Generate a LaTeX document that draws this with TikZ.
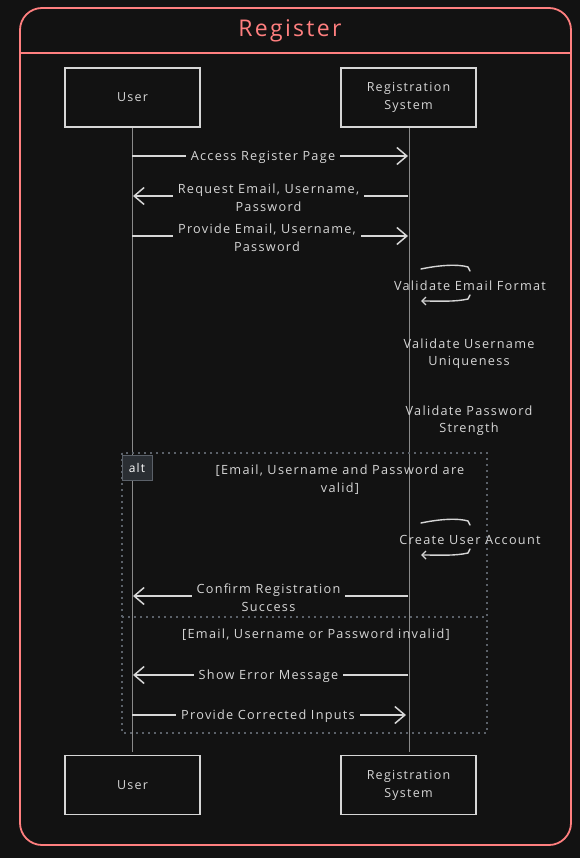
\documentclass[tikz,border=0pt]{standalone}
\usepackage{fontspec}
\setmainfont{Open Sans}[LetterSpace=10]
\usetikzlibrary{arrows.meta}
\definecolor{bgc}{HTML}{121212}
\definecolor{ink}{HTML}{D6D6D6}
\definecolor{salmon}{HTML}{FF7F7F}
\definecolor{life}{HTML}{8A8A8A}
\definecolor{dotc}{HTML}{5B6169}
\definecolor{altfill}{HTML}{2A2E33}
\tikzset{
  actor/.style={draw=ink, line width=1.6pt, fill=bgc, minimum width=135pt, minimum height=59pt, align=center, text=ink, font=\fontsize{12.5}{18}\selectfont},
  lifeline/.style={draw=life, line width=0.9pt},
  msg/.style={draw=ink, line width=1.5pt, -{Straight Barb[length=10pt,width=17pt,line width=1.5pt]}},
  lbl/.style={fill=bgc, text=ink, align=center, inner xsep=5pt, inner ysep=1pt, yshift=-1.5pt, font=\fontsize{12.7}{17.5}\selectfont},
  note/.style={text=ink, align=center, inner sep=1pt, yshift=-1.5pt, font=\fontsize{12.7}{17.5}\selectfont},
  frag/.style={draw=dotc, line width=1.6pt, dash pattern=on 1.6pt off 4.4pt},
  loopar/.style={draw=ink, line width=1.4pt, line cap=round}
}
\begin{document}
\begin{tikzpicture}[x=1pt,y=-1pt]
\fill[bgc] (0,0) rectangle (580,858);
\useasboundingbox (0,0) rectangle (580,858);
% outer frame
\draw[salmon, line width=1.8pt, rounded corners=22pt] (20,8) rectangle (571,845);
\draw[salmon, line width=1.8pt] (20,53) -- (571,53);
\node[text=salmon, font=\fontsize{23}{26}\selectfont] (title) at (290,31) {Register};
% lifelines
\coordinate (uTop) at (132,127);
\coordinate (uBot) at (132,752);
\coordinate (sTop) at (409,127);
\coordinate (sBot) at (409,752);
\draw[lifeline] (uTop) -- (uBot);
\draw[lifeline] (sTop) -- (sBot);
% actors
\node[actor] (user1) at (132.5,97.5) {User};
\node[actor] (sys1) at (408.5,97.5) {Registration\\System};
\node[actor] (user2) at (132.5,785) {User};
\node[actor] (sys2) at (408.5,785) {Registration\\System};
% alt fragment
\draw[frag] (122,453) rectangle (487,733);
\draw[frag] (122,617) -- (487,617);
\node[draw=dotc, fill=altfill, line width=1pt, minimum width=30pt, minimum height=25pt, text=white, font=\fontsize{12}{14}\selectfont, inner sep=0pt] (alt) at (137,467.5) {alt};
\node[note] (g1) at (340,478) {[Email, Username and Password are\\valid]};
\node[note] (g2) at (316,633) {[Email, Username or Password invalid]};
% messages
\coordinate (a1) at (132,156); \coordinate (b1) at (408,156);
\draw[msg] (a1) -- (b1) node[lbl, midway, xshift=-7pt] (m1) {Access Register Page};
\coordinate (a2) at (408,196); \coordinate (b2) at (133,196);
\draw[msg] (a2) -- (b2) node[lbl, pos=0.5, xshift=-2pt] (m2) {Request Email, Username,\\Password};
\coordinate (a3) at (132,236); \coordinate (b3) at (408,236);
\draw[msg] (a3) -- (b3) node[lbl, midway, xshift=-3pt] (m3) {Provide Email, Username,\\Password};
% self loop 1
\coordinate (l1a) at (421,269); \coordinate (l1b) at (468,267);
\coordinate (l1c) at (468,299); \coordinate (l1d) at (421,301);
\draw[loopar] (l1a) .. controls (440,265) and (458,264) .. (l1b) -- (470,271);
\draw[loopar, -{Straight Barb[length=4pt,width=8pt]}] (470,295) -- (l1c) .. controls (455,302) and (440,301) .. (l1d);
\node[note] (v1) at (470,284) {Validate Email Format};
\node[note] (v2) at (469,352) {Validate Username\\Uniqueness};
\node[note] (v3) at (469,419) {Validate Password\\Strength};
% self loop 2
\coordinate (l2a) at (421,523); \coordinate (l2b) at (468,521);
\coordinate (l2c) at (468,553); \coordinate (l2d) at (421,555);
\draw[loopar] (l2a) .. controls (440,519) and (458,518) .. (l2b) -- (470,525);
\draw[loopar, -{Straight Barb[length=4pt,width=8pt]}] (470,549) -- (l2c) .. controls (455,556) and (440,555) .. (l2d);
\node[note] (c1) at (470,538) {Create User Account};
% alt messages
\coordinate (a4) at (408,596); \coordinate (b4) at (133,596);
\draw[msg] (a4) -- (b4) node[lbl, midway, xshift=-2pt] (m4) {Confirm Registration\\Success};
\coordinate (a5) at (408,675); \coordinate (b5) at (133,675);
\draw[msg] (a5) -- (b5) node[lbl, midway, xshift=-2pt] (m5) {Show Error Message};
\coordinate (a6) at (132,715); \coordinate (b6) at (406,715);
\draw[msg] (a6) -- (b6) node[lbl, midway, xshift=-1pt] (m6) {Provide Corrected Inputs};
\end{tikzpicture}
\end{document}
